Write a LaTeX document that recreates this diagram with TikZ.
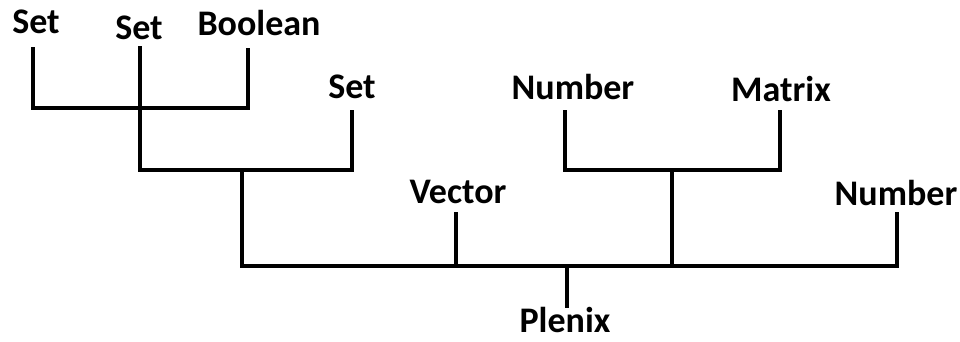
\documentclass[tikz,border=0pt]{standalone}
\usepackage{fontspec}
\setmainfont{Carlito}
\begin{document}
\begin{tikzpicture}[x=1pt,y=-1pt,
  lbl/.style={anchor=base,inner sep=0pt,font=\fontsize{36}{42}\selectfont\bfseries},
  ln/.style={line width=3.2pt,line cap=rect,line join=miter}]
\useasboundingbox (0,0) rectangle (960,342);
\fill[white] (0,0) rectangle (960,342);
% labels
\node[lbl] (set1) at (36,34) {Set};
\node[lbl] (set2) at (139,40) {Set};
\node[lbl] (bool) at (259,36) {Boolean};
\node[lbl] (set3) at (352,99) {Set};
\node[lbl] (num1) at (573,100) {Number};
\node[lbl] (mat) at (781,102) {Matrix};
\node[lbl] (vec) at (458,203) {Vector};
\node[lbl] (num2) at (896,205) {Number};
\node[lbl] (plen) at (565,332) {Plenix};
% junction coordinates
\coordinate (s1t) at (33,49);
\coordinate (s1b) at (33,108);
\coordinate (bt) at (248,50);
\coordinate (bb) at (248,108);
\coordinate (s2t) at (140,48);
\coordinate (s2b) at (140,170);
\coordinate (s3t) at (352,112);
\coordinate (s3b) at (352,170);
\coordinate (j1) at (242,170);
\coordinate (j1b) at (242,266);
\coordinate (n1t) at (565,112);
\coordinate (n1b) at (565,170);
\coordinate (mt) at (780,112);
\coordinate (mb) at (780,170);
\coordinate (j2) at (672,170);
\coordinate (j2b) at (672,266);
\coordinate (vt) at (456,214);
\coordinate (vb) at (456,266);
\coordinate (n2t) at (897,214);
\coordinate (n2b) at (897,266);
\coordinate (pt) at (567,266);
\coordinate (pb) at (567,306);
% tree
\draw[ln] (s1t) -- (s1b) -- (bb) -- (bt);
\draw[ln] (s2t) -- (s2b) -- (s3b) -- (s3t);
\draw[ln] (n1t) -- (n1b) -- (mb) -- (mt);
\draw[ln] (j1) -- (j1b) -- (n2b) -- (n2t);
\draw[ln] (vt) -- (vb);
\draw[ln] (j2) -- (j2b);
\draw[ln] (pt) -- (pb);
\end{tikzpicture}
\end{document}
